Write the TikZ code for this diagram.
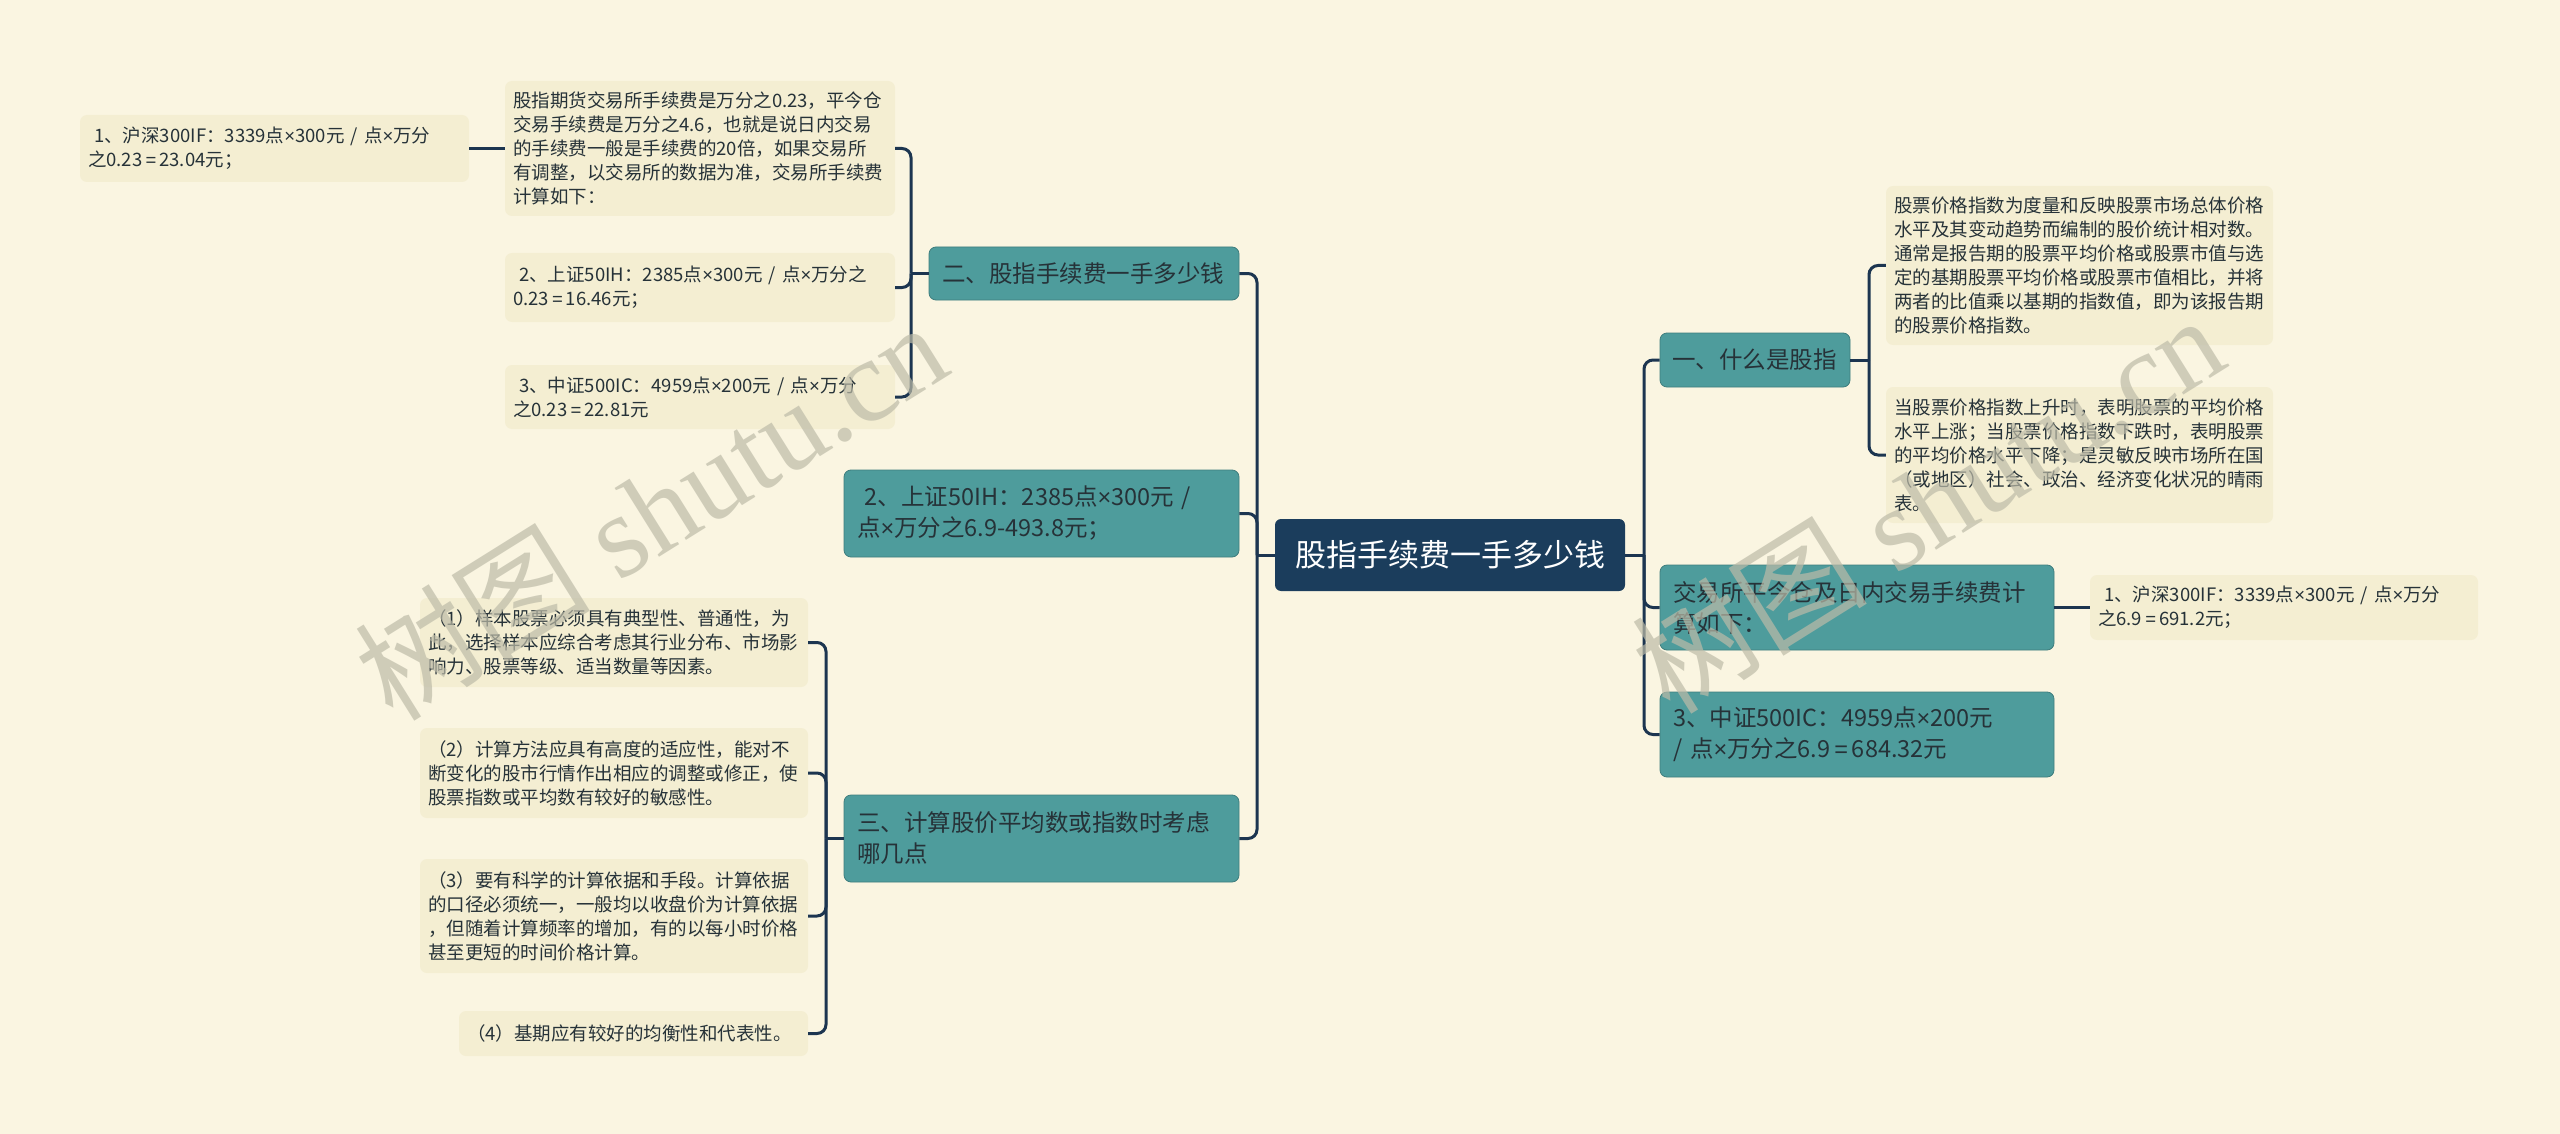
\documentclass[tikz,border=0pt]{standalone}
\usepackage{fontspec}
\newfontfamily\cjk{Noto Sans CJK SC}
\newfontfamily\wmserif{Liberation Serif}
\newfontfamily\latinsans{Liberation Sans}
\usetikzlibrary{positioning,calc}

\definecolor{bgcream}{HTML}{FAF5E1}
\definecolor{leaffill}{HTML}{F4EED2}
\definecolor{tealbox}{HTML}{4E9C9C}
\definecolor{navyroot}{HTML}{1B3D5C}
\definecolor{linknavy}{HTML}{1C3550}
\definecolor{inktext}{HTML}{263238}
\definecolor{wmgray}{HTML}{BDBBA8}

\newcommand\timesign{{\latinsans ×}}
\newcommand\eqsign{{\latinsans\,=\,}}

\tikzset{
  root/.style={fill=navyroot, text=white, rounded corners=6pt, font=\cjk\fontsize{31}{38}\selectfont,
    minimum width=350pt, minimum height=72pt, inner sep=0pt},
  branch/.style={fill=tealbox, draw=tealbox!80!black, line width=0.8pt, text=inktext, rounded corners=7pt,
    font=\cjk\fontsize{23.5}{31}\selectfont, align=left, inner xsep=13pt, inner ysep=0pt},
  leaf/.style={fill=leaffill, text=inktext, rounded corners=7pt, font=\cjk\fontsize{18.5}{24}\selectfont,
    align=left, inner xsep=8pt, inner ysep=0pt},
  link/.style={draw=linknavy, line width=3pt, rounded corners=9pt},
  watermark/.style={text=wmgray, opacity=0.7, rotate=32, font=\wmserif\fontsize{118}{118}\selectfont}
}

\begin{document}
\begin{tikzpicture}[x=1pt, y=-1pt]
  \fill[bgcream] (0,0) rectangle (2560,1134);
  \useasboundingbox (0,0) rectangle (2560,1134);

  % centre
  \node[root] (root) at (1450,555) {股指手续费一手多少钱};

  % left side
  \node[branch, text width=284pt, minimum height=53pt] (fee) at (1084,273.5) {二、股指手续费一手多少钱};
  \node[branch, text width=369pt, minimum height=87pt] (ih) at (1041.5,513.5) {~2、上证50IH：2385点\timesign 300元 /\\点\timesign 万分之6.9-493.8元；};
  \node[branch, text width=369pt, minimum height=87pt] (pts) at (1041.5,838.5) {三、计算股价平均数或指数时考虑\\哪几点};

  \node[leaf, text width=374pt, minimum height=135pt] (feenote) at (700,148.5) {股指期货交易所手续费是万分之0.23，平今仓\\交易手续费是万分之4.6，也就是说日内交易\\的手续费一般是手续费的20倍，如果交易所\\有调整，以交易所的数据为准，交易所手续费\\计算如下：};
  \node[leaf, text width=373pt, minimum height=67pt] (fee300) at (274.5,148.5) {~1、沪深300IF：3339点\timesign 300元 / 点\timesign 万分\\之0.23\eqsign 23.04元；};
  \node[leaf, text width=374pt, minimum height=69pt] (fee50) at (700,287.5) {~2、上证50IH：2385点\timesign 300元 / 点\timesign 万分之\\0.23\eqsign 16.46元；};
  \node[leaf, text width=374pt, minimum height=64pt] (fee500) at (700,397) {~3、中证500IC：4959点\timesign 200元 / 点\timesign 万分\\之0.23\eqsign 22.81元};

  \node[leaf, text width=372pt, minimum height=89pt] (pts1) at (614,642.5) {（1）样本股票必须具有典型性、普通性，为\\此，选择样本应综合考虑其行业分布、市场影\\响力、股票等级、适当数量等因素。};
  \node[leaf, text width=372pt, minimum height=90pt] (pts2) at (614,773) {（2）计算方法应具有高度的适应性，能对不\\断变化的股市行情作出相应的调整或修正，使\\股票指数或平均数有较好的敏感性。};
  \node[leaf, text width=372pt, minimum height=114pt] (pts3) at (614,916) {（3）要有科学的计算依据和手段。计算依据\\的口径必须统一，一般均以收盘价为计算依据\\，但随着计算频率的增加，有的以每小时价格\\甚至更短的时间价格计算。};
  \node[leaf, text width=333pt, minimum height=45pt] (pts4) at (633.5,1033.5) {（4）基期应有较好的均衡性和代表性。};

  % right side
  \node[branch, text width=166pt, minimum height=54pt, inner xsep=12pt] (what) at (1755,360) {一、什么是股指};
  \node[branch, text width=368pt, minimum height=85pt] (close) at (1857,607.5) {交易所平今仓及日内交易手续费计\\算如下：};
  \node[branch, text width=368pt, minimum height=85pt] (ic) at (1857,734.5) {3、中证500IC：4959点\timesign 200元\\/ 点\timesign 万分之6.9\eqsign 684.32元};

  \node[leaf, text width=371pt, minimum height=159pt] (what1) at (2079.5,265.5) {股票价格指数为度量和反映股票市场总体价格\\水平及其变动趋势而编制的股价统计相对数。\\通常是报告期的股票平均价格或股票市值与选\\定的基期股票平均价格或股票市值相比，并将\\两者的比值乘以基期的指数值，即为该报告期\\的股票价格指数。};
  \node[leaf, text width=371pt, minimum height=136pt] (what2) at (2079.5,455) {当股票价格指数上升时，表明股票的平均价格\\水平上涨；当股票价格指数下跌时，表明股票\\的平均价格水平下降；是灵敏反映市场所在国\\（或地区）社会、政治、经济变化状况的晴雨\\表。};
  \node[leaf, text width=372pt, minimum height=65pt] (close1) at (2284,607.5) {~1、沪深300IF：3339点\timesign 300元 / 点\timesign 万分\\之6.9\eqsign 691.2元；};

  % connectors
  \coordinate (lspine) at (1257,555);
  \coordinate (rspine) at (1644,555);
  \coordinate (feespine) at (911,273.5);
  \coordinate (ptsspine) at (826,838.5);
  \coordinate (whatspine) at (1869,360);

  \draw[link] (root.west) -- (lspine);
  \foreach \n in {fee,ih,pts}
    \draw[link] (lspine) |- (\n.east);
  \draw[link] (root.east) -- (rspine);
  \foreach \n in {what,close,ic}
    \draw[link] (rspine) |- (\n.west);

  \draw[link] (fee.west) -- (feespine);
  \foreach \n in {feenote,fee50,fee500}
    \draw[link] (feespine) |- (\n.east);
  \draw[link] (feenote.west) -- (fee300.east);

  \draw[link] (pts.west) -- (ptsspine);
  \foreach \n in {pts1,pts2,pts3,pts4}
    \draw[link] (ptsspine) |- (\n.east);

  \draw[link] (what.east) -- (whatspine);
  \foreach \n in {what1,what2}
    \draw[link] (whatspine) |- (\n.west);
  \draw[link] (close.east) -- (close1.west);

  % watermarks
  \node[watermark] (wmleft) at (650,510) {{\cjk 树图} shutu.cn};
  \node[watermark] (wmright) at (1927,503) {{\cjk 树图} shutu.cn};
\end{tikzpicture}
\end{document}
